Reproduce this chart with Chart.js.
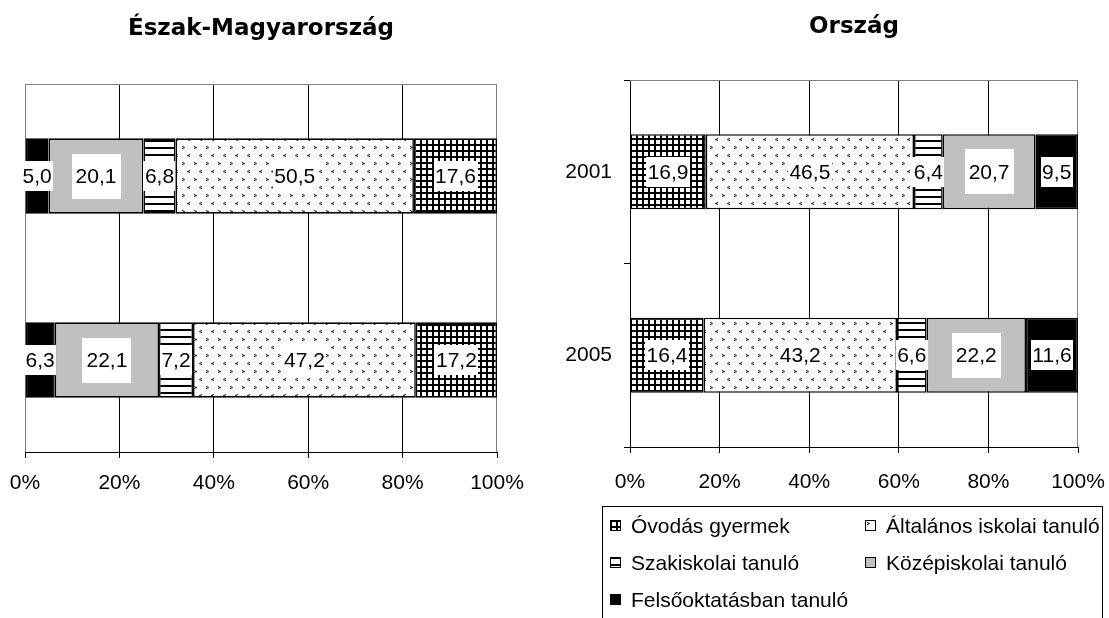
<!DOCTYPE html>
<html>
<head>
<meta charset="utf-8">
<script src="https://cdn.jsdelivr.net/npm/chart.js@4.4.1/dist/chart.umd.min.js"></script>
<style>
  body { margin: 0; background: #fff; }
  #wrap { position: relative; width: 1109px; height: 618px; overflow: hidden; }
  #c1 { position: absolute; left: 0; top: 0; }
  #c2 { position: absolute; left: 540px; top: 0; }
  #legend {
    position: absolute; left: 602px; top: 506px; width: 501px; height: 130px;
    border: 1px solid #000; box-sizing: border-box;
    font-family: "Liberation Sans", Arial, sans-serif; font-size: 21px; color: #000;
  }
  .item { position: absolute; height: 37px; line-height: 37px; white-space: nowrap; }
  .item canvas { position: absolute; left: 0; top: 13px; }
  .item span { position: absolute; left: 21px; top: 0; }
</style>
</head>
<body>
<div id="wrap">
  <canvas id="c1" width="545" height="512"></canvas>
  <canvas id="c2" width="569" height="512"></canvas>
  <div id="legend"></div>
</div>
<script>
// évek (kategóriák)
var years = ['2001', '2005'];
var xTickLabels = ['0%', '20%', '40%', '60%', '80%', '100%'];
var seriesNames = ['Óvodás gyermek', 'Általános iskolai tanuló', 'Szakiskolai tanuló', 'Középiskolai tanuló', 'Felsőoktatásban tanuló'];

// Észak-Magyarország (%)
var emFelso = [5.0, 6.3];
var emKozep = [20.1, 22.1];
var emSzak = [6.8, 7.2];
var emAltalanos = [50.5, 47.2];
var emOvodas = [17.6, 17.2];

// Ország (%)
var orOvodas = [16.9, 16.4];
var orAltalanos = [46.5, 43.2];
var orSzak = [6.4, 6.6];
var orKozep = [20.7, 22.2];
var orFelso = [9.5, 11.6];

var FONT = '"Liberation Sans", Arial, sans-serif';
Chart.defaults.font.family = FONT;
Chart.defaults.font.size = 21;
Chart.defaults.color = '#000';

// mintázatok (Excel-szerű kitöltések)
function makePattern(kind) {
    var c = document.createElement('canvas');
    var g = c.getContext('2d');
    if (kind === 'grid') {
        c.width = 6; c.height = 6;
        g.fillStyle = '#fff'; g.fillRect(0, 0, 6, 6);
        g.fillStyle = '#000';
        g.fillRect(0, 0, 6, 2);
        g.fillRect(0, 0, 2, 6);
    } else if (kind === 'hlines') {
        c.width = 7; c.height = 7;
        g.fillStyle = '#fff'; g.fillRect(0, 0, 7, 7);
        g.fillStyle = '#000';
        g.fillRect(0, 0, 7, 2);
    } else if (kind === 'dots') {
        c.width = 12; c.height = 16;
        g.fillStyle = '#fff'; g.fillRect(0, 0, 12, 16);
        g.fillStyle = '#333';
        // ">" jel
        g.fillRect(2, 2, 1, 1); g.fillRect(3, 3, 2, 1); g.fillRect(2, 4, 1, 1);
        // "<" jel
        g.fillRect(9, 10, 1, 1); g.fillRect(7, 11, 2, 1); g.fillRect(9, 12, 1, 1);
        g.fillStyle = '#999';
        g.fillRect(3, 2, 1, 1); g.fillRect(3, 4, 1, 1);
        g.fillRect(8, 10, 1, 1); g.fillRect(8, 12, 1, 1);
    }
    return g.createPattern(c, 'repeat');
}

var fills = {
    ovodas: makePattern('grid'),
    altalanos: makePattern('dots'),
    szak: makePattern('hlines'),
    kozep: '#c0c0c0',
    felso: '#000000'
};

function ds(name, data, fill, big) {
    return {
        label: name,
        data: data,
        backgroundColor: fill,
        borderColor: '#000',
        borderWidth: 1.6,
        borderSkipped: false,
        barPercentage: 0.41,
        categoryPercentage: 1,
        labelPadX: big ? 4 : 1.5,
        labelH: big ? 45 : 30
    };
}

// fehér hátterű adatfeliratok
var boxLabels = {
    id: 'boxLabels',
    afterDatasetsDraw: function(chart) {
        var ctx = chart.ctx;
        ctx.save();
        ctx.font = '21px ' + FONT;
        ctx.textAlign = 'center';
        ctx.textBaseline = 'middle';
        chart.data.datasets.forEach(function(set, di) {
            var meta = chart.getDatasetMeta(di);
            meta.data.forEach(function(bar, i) {
                var txt = set.data[i].toFixed(1).replace('.', ',');
                var cx = (bar.x + bar.base) / 2;
                var cy = bar.y;
                var w = ctx.measureText(txt).width + 2 * set.labelPadX;
                var h = set.labelH;
                ctx.fillStyle = '#fff';
                ctx.fillRect(Math.round(cx - w / 2), Math.round(cy - h / 2), Math.round(w), h);
                ctx.fillStyle = '#000';
                ctx.fillText(txt, cx, cy + 1);
            });
        });
        ctx.restore();
    }
};

// szürke keret a rajzterület körül
var plotFrame = {
    id: 'plotFrame',
    beforeDatasetsDraw: function(chart, args, opts) {
        var ctx = chart.ctx, a = chart.chartArea;
        ctx.save();
        ctx.strokeStyle = '#808080';
        ctx.lineWidth = 1;
        ctx.beginPath();
        if (opts.left) {
            ctx.moveTo(Math.round(a.left) + 0.5, a.bottom);
            ctx.lineTo(Math.round(a.left) + 0.5, a.top);
        }
        ctx.moveTo(a.left, Math.round(a.top) + 0.5);
        ctx.lineTo(a.right, Math.round(a.top) + 0.5);
        ctx.moveTo(Math.round(a.right) - 0.5, a.top);
        ctx.lineTo(Math.round(a.right) - 0.5, a.bottom);
        ctx.stroke();
        ctx.restore();
    }
};

function xScale(height, pad) {
    return {
        stacked: true,
        min: 0,
        max: 100,
        ticks: {
            stepSize: 20,
            padding: pad,
            maxRotation: 0,
            callback: function(v, i) { return xTickLabels[i]; }
        },
        grid: {
            color: function(c) { return (c.index === 0 || c.index === 5) ? 'rgba(0,0,0,0)' : '#000'; },
            tickColor: '#000',
            tickLength: 6,
            lineWidth: 1
        },
        border: { display: true, color: '#000', width: 1 },
        afterFit: function(s) {
            // a rajzterület szélességét a layout padding adja
            s.height = height;
            s.paddingLeft = 0;
            s.paddingRight = 0;
        }
    };
}

var titleFont = { family: '"DejaVu Sans", sans-serif', size: 23, weight: 'bold' };

// Észak-Magyarország
var chart1 = new Chart(document.getElementById('c1'), {
    type: 'bar',
    data: {
        labels: years,
        datasets: [
            ds(seriesNames[4], emFelso, fills.felso),
            ds(seriesNames[3], emKozep, fills.kozep, true),
            ds(seriesNames[2], emSzak, fills.szak),
            ds(seriesNames[1], emAltalanos, fills.altalanos),
            ds(seriesNames[0], emOvodas, fills.ovodas)
        ]
    },
    options: {
        indexAxis: 'y',
        responsive: false,
        animation: false,
        layout: { padding: { left: 25, right: 48, top: 0, bottom: 0 } },
        scales: {
            x: xScale(60, 13),
            y: { stacked: true, display: false }
        },
        plugins: {
            legend: { display: false },
            tooltip: { enabled: false },
            plotFrame: { left: true },
            title: {
                display: true,
                text: 'Észak-Magyarország',
                font: titleFont,
                padding: { top: 15, bottom: 41.4 }
            }
        }
    },
    plugins: [plotFrame, boxLabels]
});

// Ország
var chart2 = new Chart(document.getElementById('c2'), {
    type: 'bar',
    data: {
        labels: years,
        datasets: [
            ds(seriesNames[0], orOvodas, fills.ovodas),
            ds(seriesNames[1], orAltalanos, fills.altalanos),
            ds(seriesNames[2], orSzak, fills.szak),
            ds(seriesNames[3], orKozep, fills.kozep, true),
            ds(seriesNames[4], orFelso, fills.felso)
        ]
    },
    options: {
        indexAxis: 'y',
        responsive: false,
        animation: false,
        layout: { padding: { left: 0, right: 31, top: 0, bottom: 0 } },
        scales: {
            x: xScale(65, 17),
            y: {
                stacked: true,
                ticks: { padding: 12 },
                grid: { drawOnChartArea: false, color: '#000', tickLength: 6 },
                border: { color: '#000' },
                afterFit: function(s) { s.width = 90; }
            }
        },
        plugins: {
            legend: { display: false },
            tooltip: { enabled: false },
            plotFrame: { left: false },
            title: {
                display: true,
                fullSize: false,
                text: 'Ország',
                font: titleFont,
                padding: { top: 13, bottom: 39.4 }
            }
        }
    },
    plugins: [plotFrame, boxLabels]
});

// jelmagyarázat a második diagram adatsoraiból
var legend = document.getElementById('legend');
var colX = [7, 262];
chart2.data.datasets.forEach(function(set, i) {
    var item = document.createElement('div');
    item.className = 'item';
    item.style.left = colX[i % 2] + 'px';
    item.style.top = (Math.floor(i / 2) * 37) + 'px';
    var sw = document.createElement('canvas');
    sw.width = 11; sw.height = 11;
    var g = sw.getContext('2d');
    g.fillStyle = set.backgroundColor;
    g.fillRect(0, 0, 11, 11);
    g.strokeStyle = '#000';
    g.lineWidth = 1;
    g.strokeRect(0.5, 0.5, 10, 10);
    var txt = document.createElement('span');
    txt.textContent = set.label;
    item.appendChild(sw);
    item.appendChild(txt);
    legend.appendChild(item);
});
</script>
</body>
</html>
